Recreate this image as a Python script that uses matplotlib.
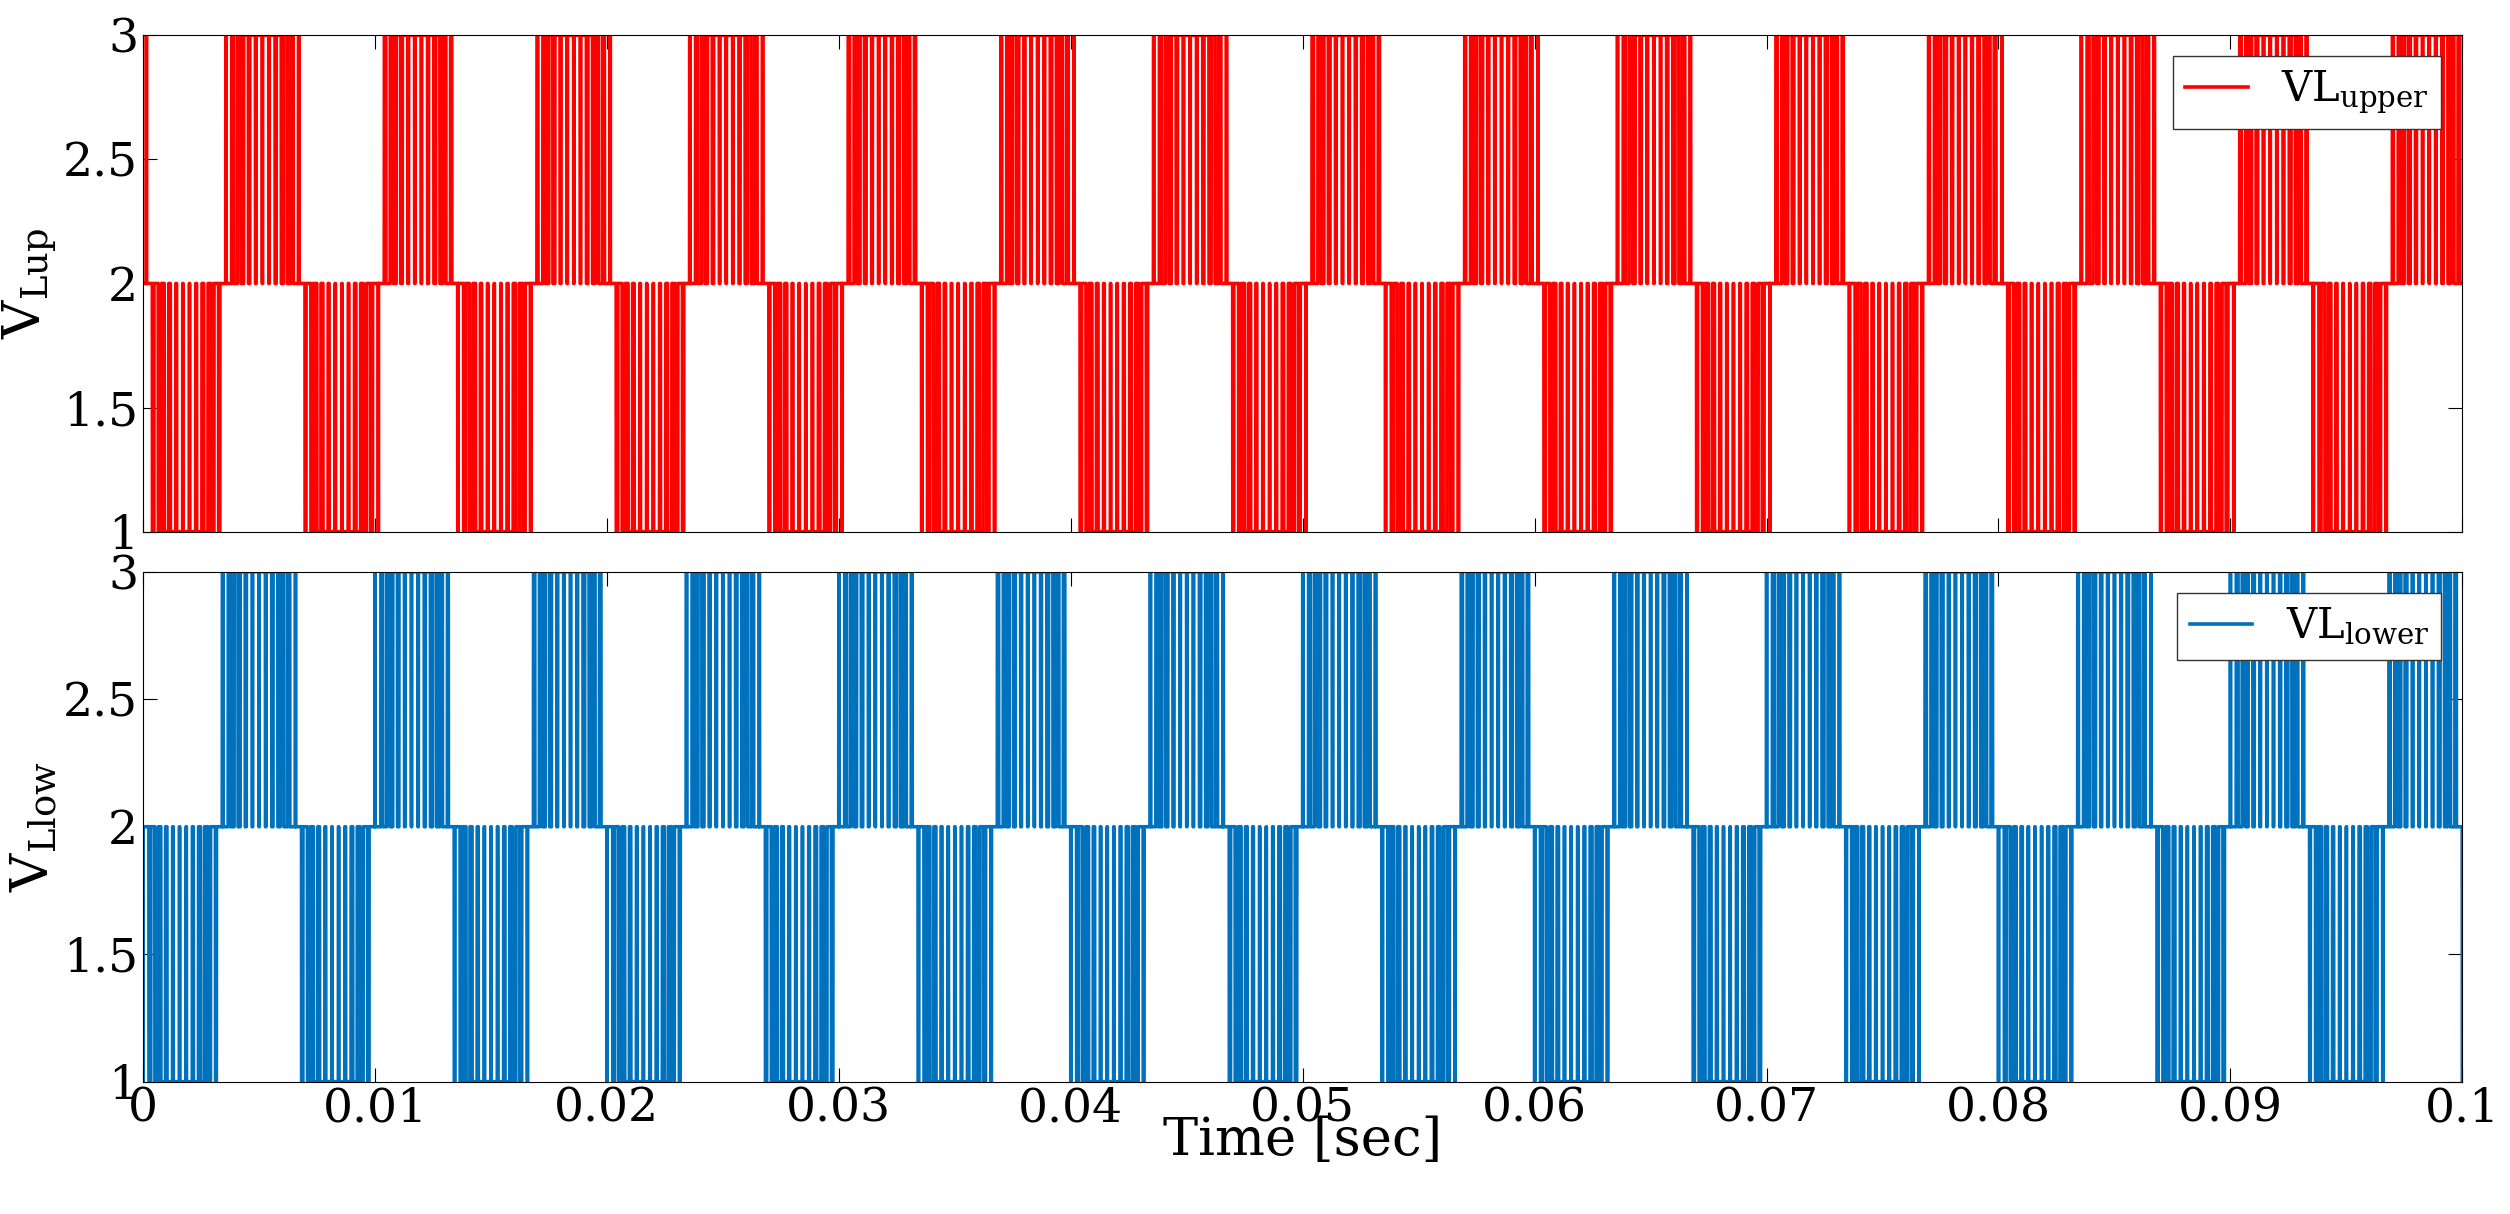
import numpy as np
import matplotlib
matplotlib.use("Agg")
import matplotlib.pyplot as plt

# signal parameters
f_fund = 150.0          # fundamental frequency (Hz)
f_carrier = 3500.0      # carrier frequency (Hz)
mod_index = 0.95
phase_upper = 0.0035    # start of first 2-3 band, upper
phase_lower = 0.0033    # start of first 2-3 band, lower
mid_level = 2.0
t_end = 0.1

xticks = [0, 0.01, 0.02, 0.03, 0.04, 0.05, 0.06, 0.07, 0.08, 0.09, 0.1]
xticklabels = ["0", "0.01", "0.02", "0.03", "0.04", "0.05", "0.06", "0.07", "0.08", "0.09", "0.1"]
yticks = [1, 1.5, 2, 2.5, 3]
yticklabels = ["1", "1.5", "2", "2.5", "3"]

t = np.linspace(0, t_end, 200001)

def pwm(t, phase, carrier_shift):
    ref = mod_index * np.sin(2 * np.pi * f_fund * (t - phase))
    c = np.abs(((t * f_carrier + carrier_shift) % 1.0) * 2 - 1)  # triangle 0..1
    out = np.full_like(t, mid_level)
    out[(ref > 0) & (ref > c)] = mid_level + 1
    out[(ref < 0) & (-ref > c)] = mid_level - 1
    return out

v_up = pwm(t, phase_upper, 0.0)
v_low = pwm(t, phase_lower, 0.5)

plt.rcParams['font.family'] = ['DejaVu Serif']
fig = plt.figure(figsize=(25.1, 12.14), dpi=100)
ax1 = fig.add_axes([0.057, 0.562, 0.924, 0.409])
ax2 = fig.add_axes([0.057, 0.109, 0.924, 0.420])

for ax, v, col, lab, ylab in [
        (ax1, v_up, "#ff0000", r"VL$_{\mathregular{upper}}$", r"V$_{\mathregular{Lup}}$"),
        (ax2, v_low, "#0072bd", r"VL$_{\mathregular{lower}}$", r"V$_{\mathregular{Llow}}$")]:
    ax.plot(t, v, color=col, lw=2.6, label=lab)
    ax.set_xlim(0, t_end)
    ax.set_ylim(1, 3)
    ax.set_yticks(yticks)
    ax.set_yticklabels(yticklabels, fontsize=34)
    ax.set_xticks(xticks)
    ax.tick_params(direction='in', length=10, top=True, right=True)
    ax.set_ylabel(ylab, fontsize=38, labelpad=2)
    ax.legend(loc='upper right', fontsize=30, handlelength=1.5, borderpad=0.3,
              fancybox=False, edgecolor='#333333', framealpha=1)
ax1.set_xticklabels([])
ax2.set_xticklabels(xticklabels, fontsize=34)
ax2.set_xlabel("Time [sec]", fontsize=38, labelpad=-12)

fig.savefig("out.png", dpi=100)
